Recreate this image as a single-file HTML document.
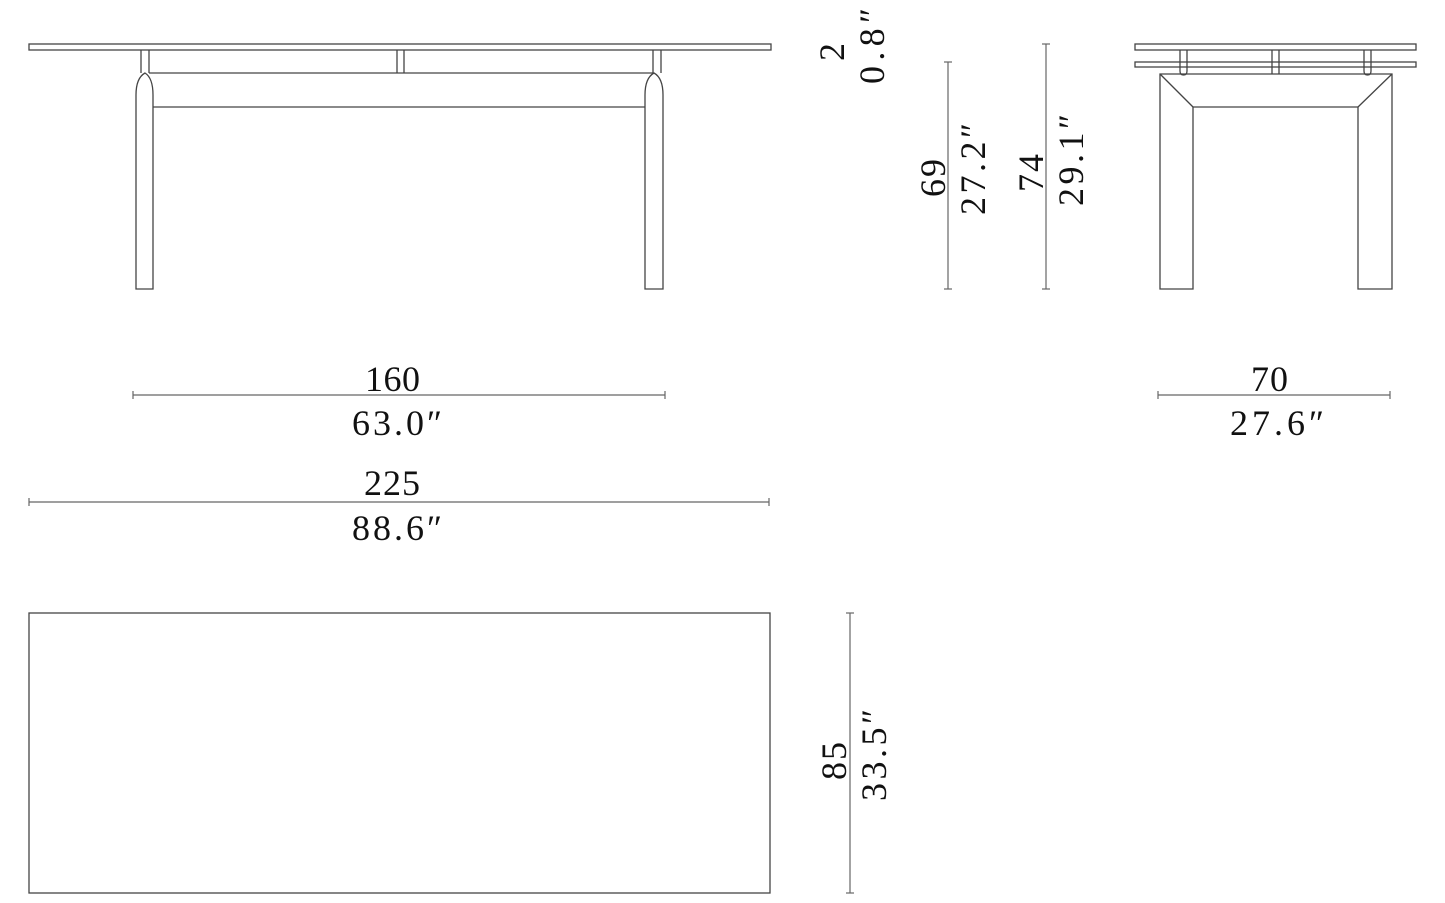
<!DOCTYPE html>
<html><head><meta charset="utf-8"><style>
html,body{margin:0;padding:0;background:#fff;}
svg{display:block}
text{font-family:"Liberation Serif",serif;font-size:36px;fill:#111;}
</style></head><body>
<svg width="1445" height="903" viewBox="0 0 1445 903" xmlns="http://www.w3.org/2000/svg">
<g fill="none" stroke="#444" stroke-width="1.3">
<!-- front view -->
<rect x="29" y="44" width="742" height="6"/>
<line x1="141" y1="50" x2="141" y2="73"/><line x1="149" y1="50" x2="149" y2="73"/>
<line x1="397" y1="50" x2="397" y2="73"/><line x1="404" y1="50" x2="404" y2="73"/>
<line x1="653" y1="50" x2="653" y2="73"/><line x1="661" y1="50" x2="661" y2="73"/>
<line x1="149" y1="73" x2="653" y2="73"/>
<path d="M136 289 L136 95 Q136 78 145 73 Q153 78 153 95 L153 289 Z"/>
<path d="M645 289 L645 95 Q645 78 654 73 Q663 78 663 95 L663 289 Z"/>
<line x1="153" y1="107" x2="645" y2="107"/>
<!-- side view -->
<rect x="1135" y="44" width="281" height="6"/>
<rect x="1135" y="62" width="281" height="5"/>
<path d="M1180 50 V71 Q1180 75 1183.5 75 Q1187 75 1187 71 V50"/>
<path d="M1364 50 V71 Q1364 75 1367.5 75 Q1371 75 1371 71 V50"/>
<line x1="1272" y1="50" x2="1272" y2="74"/><line x1="1279" y1="50" x2="1279" y2="74"/>
<path d="M1160 289 V74 H1392 V289 H1358 V107 H1193 V289 Z"/>
<line x1="1160" y1="74" x2="1193" y2="107"/>
<line x1="1392" y1="74" x2="1358" y2="107"/>
<!-- top view -->
<rect x="29" y="613" width="741" height="280"/>
</g>
<g stroke="#666" stroke-width="1.2">
<line x1="948" y1="62" x2="948" y2="289"/><line x1="944" y1="62" x2="952" y2="62"/><line x1="944" y1="289" x2="952" y2="289"/>
<line x1="1046" y1="44" x2="1046" y2="289"/><line x1="1042" y1="44" x2="1050" y2="44"/><line x1="1042" y1="289" x2="1050" y2="289"/>
<line x1="133" y1="395" x2="665" y2="395"/><line x1="133" y1="391" x2="133" y2="399"/><line x1="665" y1="391" x2="665" y2="399"/>
<line x1="1158" y1="395" x2="1390" y2="395"/><line x1="1158" y1="391" x2="1158" y2="399"/><line x1="1390" y1="391" x2="1390" y2="399"/>
<line x1="29" y1="502" x2="769" y2="502"/><line x1="29" y1="498" x2="29" y2="506"/><line x1="769" y1="498" x2="769" y2="506"/>
<line x1="850" y1="613" x2="850" y2="893"/><line x1="846" y1="613" x2="854" y2="613"/><line x1="846" y1="893" x2="854" y2="893"/>
</g>
<text x="365" y="391" textLength="55">160</text>
<text x="352" y="435" textLength="90">63.0″</text>
<text x="1251" y="391" textLength="37">70</text>
<text x="1230" y="435" textLength="94">27.6″</text>
<text x="364" y="495" textLength="56">225</text>
<text x="352" y="540" textLength="90">88.6″</text>
<g>
<text transform="translate(844,61) rotate(-90)" textLength="20">2</text>
<text transform="translate(884,84) rotate(-90)" textLength="76">0.8″</text>
<text transform="translate(945,197) rotate(-90)" textLength="38">69</text>
<text transform="translate(985,215) rotate(-90)" textLength="92">27.2″</text>
<text transform="translate(1043,192) rotate(-90)" textLength="38">74</text>
<text transform="translate(1083,206) rotate(-90)" textLength="92">29.1″</text>
<text transform="translate(846,780) rotate(-90)" textLength="38">85</text>
<text transform="translate(886,801) rotate(-90)" textLength="92">33.5″</text>
</g>
</svg>
</body></html>
